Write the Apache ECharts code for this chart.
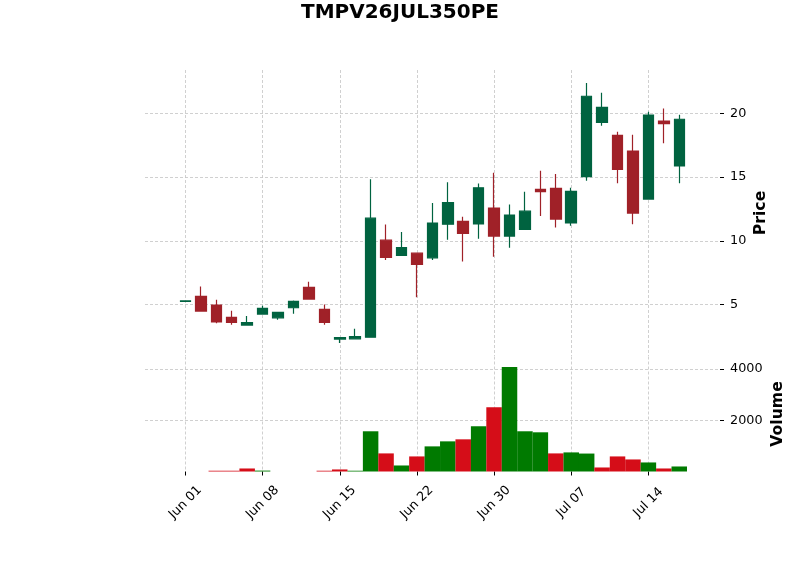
<!DOCTYPE html>
<html>
<head>
<meta charset="utf-8">
<script src="https://cdn.jsdelivr.net/npm/echarts@6/dist/echarts.min.js"></script>
<style>
  html, body { margin: 0; padding: 0; background: #fff; }
  #container { width: 800px; height: 575px; }
</style>
</head>
<body>
<div id="container"></div>
<script>
var title = 'TMPV26JUL350PE';
var dates = ['Jun 01','Jun 02','Jun 03','Jun 04','Jun 05',
             'Jun 08','Jun 09','Jun 10','Jun 11','Jun 12',
             'Jun 15','Jun 16','Jun 17','Jun 18','Jun 19',
             'Jun 22','Jun 23','Jun 24','Jun 25','Jun 26',
             'Jun 30','Jul 01','Jul 02','Jul 03','Jul 06',
             'Jul 07','Jul 08','Jul 09','Jul 10','Jul 13',
             'Jul 14','Jul 15','Jul 16'];
var opens  = [5.24,5.63,4.95,3.98,3.38, 4.24,3.95,4.74,6.34,4.61, 2.28,2.30,2.43,10.05,8.85,
              9.03,8.66,11.30,11.53,11.33, 12.57,10.37,10.90,14.04,14.12, 11.40,15.05,19.30,18.28,17.05,
              13.28,19.41,15.88];
var highs  = [5.28,6.41,5.37,4.50,4.10, 4.90,4.38,5.31,6.78,5.00, 2.45,3.09,14.84,11.28,10.70,
              9.05,12.98,14.60,11.90,14.50, 15.35,12.86,13.86,15.50,15.24, 14.17,22.40,21.64,18.57,18.33,
              20.15,20.39,19.90];
var lows   = [5.24,4.45,3.53,3.40,3.33, 4.22,3.80,4.27,5.37,3.40, 1.97,2.27,2.40,8.50,8.85,
              5.57,8.50,10.08,8.37,10.16, 8.74,9.45,10.90,11.94,11.05, 11.18,14.71,19.04,14.53,11.30,
              13.25,17.66,14.53];
var closes = [5.28,4.48,3.62,3.58,3.57, 4.69,4.37,5.24,5.42,3.59, 2.40,2.48,11.78,8.69,9.47,
              8.14,11.39,13.00,10.59,14.16, 10.37,12.02,12.33,13.86,11.71, 13.89,21.36,20.48,15.61,12.18,
              19.88,19.20,19.55];
var volumes = [0,0,30,30,118, 35,0,0,0,30, 80,30,1569,706,235,
               588,980,1176,1255,1765, 2510,4078,1569,1529,706, 745,700,157,588,470,
               353,118,196];
var dateTicks = [0,5,10,15,20,25,30];
var priceTicks = [5,10,15,20];
var volumeTicks = [2000,4000];

var upColor = '#006340', downColor = '#a02128';
var volUp = '#007a00', volDown = '#d50d18';
var font = 'DejaVu Sans';
var gridLine = { show: true, lineStyle: { color: '#c4c4c4', width: 0.8, type: [3, 2] } };

var candleData = [], volData = [];
for (var i = 0; i < dates.length; i++) {
  candleData.push([i, opens[i], closes[i], lows[i], highs[i]]);
  // 量柱颜色：收盘价与前一日收盘价比较
  var up = i === 0 ? closes[i] >= opens[i] : closes[i] >= closes[i - 1];
  volData.push({ value: [i, volumes[i]], itemStyle: { color: up ? volUp : volDown } });
}

// 与 matplotlib 一样留 5% 边距
var pMin = Math.min.apply(null, lows), pMax = Math.max.apply(null, highs);
var pPad = (pMax - pMin) * 0.05;
var vMax = Math.max.apply(null, volumes) * 1.1;
var xMin = -2.62, xMax = dates.length - 1 + 2.64;

var chart = echarts.init(document.getElementById('container'));
chart.setOption({
  backgroundColor: '#fff',
  animation: false,
  title: {
    text: title, left: 'center', top: -2,
    textStyle: { fontFamily: font, fontSize: 20, fontWeight: 'bold', color: '#000' }
  },
  grid: [
    { left: 145, right: 80, top: 70, height: 286 },
    { left: 145, right: 80, top: 356.5, height: 115 }
  ],
  xAxis: [{
    type: 'value', gridIndex: 0, min: xMin, max: xMax,
    axisLine: { show: false, onZero: false },
    axisTick: { show: false, customValues: dateTicks },
    axisLabel: { show: false, customValues: dateTicks },
    splitLine: gridLine
  }, {
    type: 'value', gridIndex: 1, min: xMin, max: xMax,
    axisLine: { show: false, onZero: false },
    axisTick: { show: true, length: 4, customValues: dateTicks, lineStyle: { color: '#000', width: 1 } },
    axisLabel: {
      customValues: dateTicks, rotate: 45, align: 'center', verticalAlign: 'middle', margin: 31,
      fontFamily: font, fontSize: 12.8, color: '#000',
      formatter: function (v) { return dates[Math.round(v)] || ''; }
    },
    splitLine: gridLine
  }],
  yAxis: [{
    type: 'value', gridIndex: 0, position: 'right',
    min: pMin - pPad, max: pMax + pPad,
    name: 'Price', nameLocation: 'middle', nameRotate: 90, nameGap: 33, nameMoveOverlap: false,
    nameTextStyle: { fontFamily: font, fontSize: 15.7, fontWeight: 'bold', color: '#000' },
    axisLine: { show: false, onZero: false },
    axisTick: { show: true, length: 4, customValues: priceTicks, lineStyle: { color: '#000' } },
    axisLabel: { customValues: priceTicks, margin: 10, fontFamily: font, fontSize: 12.8, color: '#000' },
    splitLine: gridLine
  }, {
    type: 'value', gridIndex: 1, position: 'right',
    min: 0, max: vMax,
    name: 'Volume', nameLocation: 'middle', nameRotate: 90, nameGap: 50, nameMoveOverlap: false,
    nameTextStyle: { fontFamily: font, fontSize: 15.7, fontWeight: 'bold', color: '#000' },
    axisLine: { show: false, onZero: false },
    axisTick: { show: true, length: 4, customValues: volumeTicks, lineStyle: { color: '#000' } },
    axisLabel: {
      customValues: volumeTicks, margin: 10, fontFamily: font, fontSize: 12.8, color: '#000',
      formatter: function (v) { return String(v); }
    },
    splitLine: gridLine
  }],
  series: [{
    type: 'candlestick', xAxisIndex: 0, yAxisIndex: 0,
    data: candleData,
    encode: { x: 0, y: [1, 2, 3, 4] },
    barWidth: 11,
    itemStyle: {
      color: upColor, color0: downColor,
      borderColor: upColor, borderColor0: downColor, borderWidth: 1.2
    }
  }, {
    type: 'bar', xAxisIndex: 1, yAxisIndex: 1,
    data: volData,
    barWidth: 15.5
  }]
});
</script>
</body>
</html>
